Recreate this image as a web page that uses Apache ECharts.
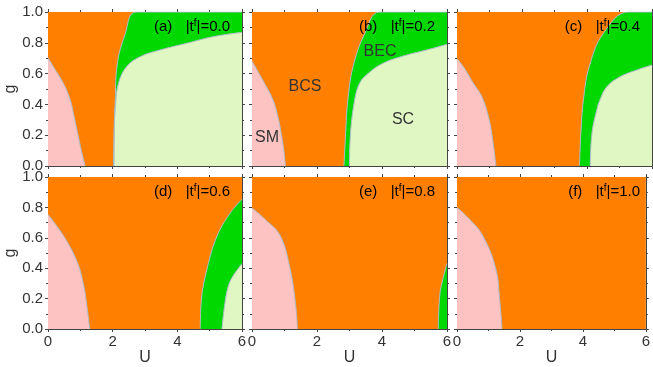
<!DOCTYPE html>
<html>
<head>
<meta charset="utf-8">
<script src="https://cdn.jsdelivr.net/npm/echarts@6/dist/echarts.min.js"></script>
<style>
html, body { margin: 0; padding: 0; background: #fff; }
#chart { width: 653px; height: 367px; }
</style>
</head>
<body>
<div id="chart"></div>
<script>
// panel names and |t^f| values
const panelNames = ['(a)', '(b)', '(c)', '(d)', '(e)', '(f)']
const tfValues = ['0.0', '0.2', '0.4', '0.6', '0.8', '1.0']

// BCS fills the whole plot, other phases are painted on top
const bcsTop = [[0, 1], [6, 1]]

// SM phase boundary [U, g]
const smA = [[0, 0.703], [0.17, 0.643], [0.48, 0.535], [0.69, 0.427], [0.81, 0.318], [0.92, 0.21], [1.03, 0.102], [1.15, 0]]
const smB = [[0, 0.682], [0.39, 0.535], [0.65, 0.427], [0.80, 0.318], [0.90, 0.21], [0.98, 0.10], [1.03, 0]]
const smC = [[0, 0.697], [0.20, 0.643], [0.51, 0.535], [0.77, 0.448], [0.97, 0.318], [1.07, 0.21], [1.20, 0]]
const smD = [[0, 0.753], [0.48, 0.613], [0.90, 0.442], [1.10, 0.29], [1.21, 0.14], [1.29, 0]]
const smE = [[0, 0.796], [0.41, 0.72], [0.87, 0.613], [1.17, 0.398], [1.33, 0.183], [1.40, 0]]
const smF = [[0, 0.80], [0.41, 0.72], [0.82, 0.613], [1.23, 0.398], [1.36, 0.183], [1.43, 0]]

// BCS / BEC boundary
const becA = [[2.03, 0], [2.05, 0.25], [2.08, 0.427], [2.13, 0.643], [2.39, 0.86], [2.73, 1], [6, 1]]
const becB = [[2.83, 0], [2.88, 0.21], [2.95, 0.43], [3.11, 0.645], [3.47, 0.86], [3.93, 1], [6, 1]]
const becC = [[3.77, 0], [3.81, 0.21], [3.89, 0.43], [4.07, 0.645], [4.50, 0.86], [5.27, 1], [6, 1]]
const becD = [[4.71, 0], [4.74, 0.183], [4.92, 0.398], [5.23, 0.613], [5.64, 0.764], [6, 0.854]]
const becE = [[5.73, 0], [5.78, 0.226], [5.88, 0.334], [6, 0.43]]

// BEC / SC boundary
const scA = [[2.04, 0], [2.05, 0.25], [2.09, 0.4], [2.18, 0.537], [2.43, 0.645], [2.85, 0.71], [3.46, 0.753], [4.29, 0.797], [5.11, 0.84], [6, 0.868]]
const scB = [[3.0, 0], [3.03, 0.21], [3.16, 0.43], [3.31, 0.537], [3.57, 0.60], [4.03, 0.667], [4.75, 0.72], [5.37, 0.753], [6, 0.79]]
const scC = [[4.10, 0], [4.15, 0.21], [4.30, 0.364], [4.40, 0.43], [4.61, 0.515], [5.02, 0.58], [5.53, 0.623], [6, 0.656]]
const scD = [[5.38, 0], [5.48, 0.183], [5.59, 0.29], [5.74, 0.355], [6, 0.43]]

const smList = [smA, smB, smC, smD, smE, smF]
const becList = [becA, becB, becC, becD, becE, null]
const scList = [scA, scB, scC, scD, null, null]

const colors = { bcs: '#ff8000', bec: '#00d800', sc: '#e0f7c4', sm: '#fdc2c2', edge: '#aebccb' }
const font = 'Liberation Sans'

const lefts = [48, 252, 457]
const widths = [194, 195, 195]
const tops = [12, 177]
const heights = [154, 155]

const grid = []
const xAxis = []
const yAxis = []
const series = []
const graphic = []

function tickAxis(extra) {
  return Object.assign({
    type: 'value',
    splitLine: { show: false },
    axisLine: { show: true, onZero: false, lineStyle: { color: '#444', width: 1 } },
    axisTick: { show: true, length: 3, lineStyle: { color: '#444' } },
    minorTick: { show: true, splitNumber: 2, length: 2, lineStyle: { color: '#444' } },
    axisLabel: { show: false }
  }, extra)
}

function area(i, name, data, color, edge) {
  return {
    name: name,
    type: 'line',
    xAxisIndex: i * 2,
    yAxisIndex: i * 2,
    data: data,
    showSymbol: false,
    smooth: 0.4,
    lineStyle: { color: colors.edge, width: edge ? 1 : 0 },
    areaStyle: { color: color, opacity: 1 },
    silent: true
  }
}

for (let i = 0; i < 6; i++) {
  const row = Math.floor(i / 3)
  const col = i % 3
  grid.push({ left: lefts[col], top: tops[row], width: widths[col], height: heights[row] })

  xAxis.push(tickAxis({
    gridIndex: i, position: 'bottom', min: 0, max: 6, interval: 2,
    name: row === 1 ? 'U' : '', nameLocation: 'middle', nameGap: 21,
    nameTextStyle: { fontFamily: font, fontSize: 16, color: '#333' },
    axisLabel: { show: row === 1, margin: 5, fontFamily: font, fontSize: 15, color: '#333' }
  }))
  xAxis.push(tickAxis({ gridIndex: i, position: 'top', min: 0, max: 6, interval: 2 }))

  yAxis.push(tickAxis({
    gridIndex: i, position: 'left', min: 0, max: 1, interval: 0.2,
    name: col === 0 ? 'g' : '', nameLocation: 'middle', nameGap: 29,
    nameTextStyle: { fontFamily: font, fontSize: 16, color: '#333' },
    axisLabel: { show: col === 0, margin: 5, fontFamily: font, fontSize: 15, color: '#333',
      formatter: function (v) { return v.toFixed(1) } }
  }))
  yAxis.push(tickAxis({ gridIndex: i, position: 'right', min: 0, max: 1, interval: 0.2 }))

  series.push(area(i, 'BCS', bcsTop, colors.bcs, false))
  if (becList[i]) series.push(area(i, 'BEC', becList[i], colors.bec, true))
  if (scList[i]) series.push(area(i, 'SC', scList[i], colors.sc, true))
  series.push(area(i, 'SM', smList[i], colors.sm, true))

  // panel title, right aligned inside the frame
  graphic.push({
    type: 'text',
    x: lefts[col] + widths[col] - 12,
    y: tops[row] + 15,
    z: 100,
    style: {
      text: '{n|' + panelNames[i] + '}    {n||t}{s|f}{n||=' + tfValues[i] + '}',
      align: 'right',
      verticalAlign: 'middle',
      rich: {
        n: { fontFamily: font, fontSize: 15, color: '#333', lineHeight: 18 },
        s: { fontFamily: font, fontSize: 10, color: '#333', verticalAlign: 'top', lineHeight: 18 }
      }
    }
  })
}

// phase labels in panel (b)
const phaseLabels = [['BCS', 305, 87], ['SM', 267, 138], ['BEC', 380, 52], ['SC', 403, 120]]
phaseLabels.forEach(function (p) {
  graphic.push({
    type: 'text', x: p[1], y: p[2], z: 100,
    style: { text: p[0], fontFamily: font, fontSize: 16, fill: '#333', align: 'center', verticalAlign: 'middle' }
  })
})

const chart = echarts.init(document.getElementById('chart'))
chart.setOption({
  animation: false,
  grid: grid,
  xAxis: xAxis,
  yAxis: yAxis,
  series: series,
  graphic: graphic
})
</script>
</body>
</html>
